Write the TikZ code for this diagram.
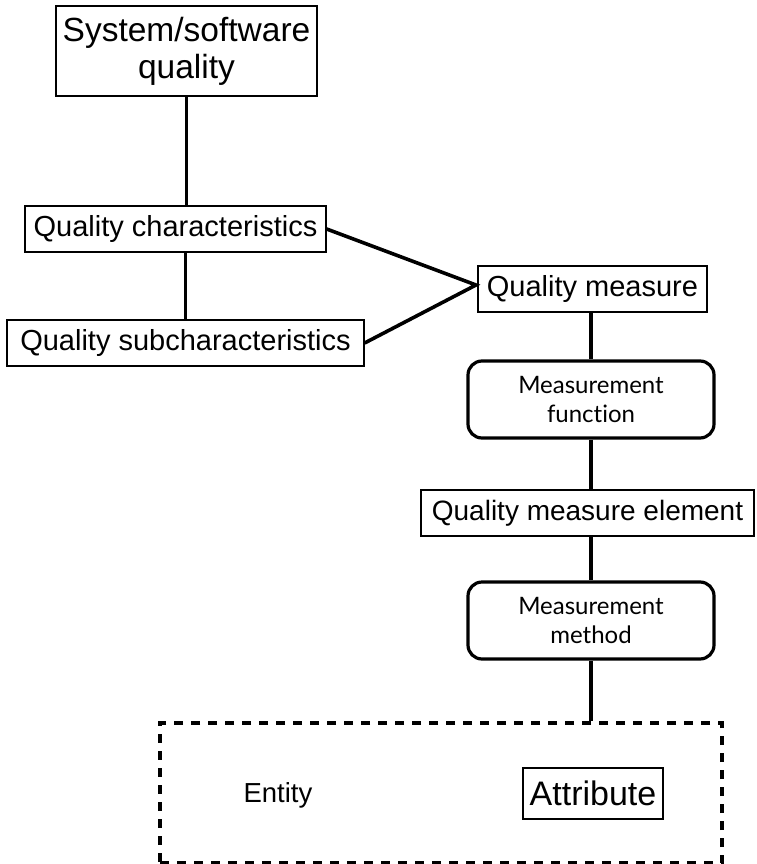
\documentclass[tikz,border=0pt]{standalone}
\usepackage{fontspec}
\setmainfont{Liberation Sans}
\newfontfamily\humanist[Ligatures=NoCommon]{Lato}
\begin{document}
\begin{tikzpicture}[x=1pt,y=-1pt,
  plainbox/.style={draw, line width=1.3pt, inner sep=0pt, align=center,
    font=\fontsize{29}{33}\selectfont},
  roundbox/.style={draw, line width=3.2pt, rounded corners=14pt, inner sep=0pt,
    align=center, minimum width=246pt, minimum height=77pt,
    font=\humanist\fontsize{24}{29}\selectfont},
  link/.style={line width=3.6pt},
  groupbox/.style={draw, line width=4pt, dash pattern=on 9pt off 8pt, inner sep=0pt}]
\useasboundingbox (0,0) rectangle (756,864);

% left column: quality model
\node[plainbox, minimum width=261pt, minimum height=90pt,
  font=\fontsize{33.5}{37}\selectfont] (sys) at (186.5,51) {System/software\\quality};
\node[plainbox, minimum width=301pt, minimum height=46pt] (qc) at (175.5,229) {Quality characteristics};
\node[plainbox, minimum width=357pt, minimum height=46pt] (qs) at (185.5,343) {Quality subcharacteristics};

% right column: measurement chain
\node[plainbox, minimum width=229pt, minimum height=46pt] (qm) at (592.5,289) {Quality measure};
\node[roundbox] (mf) at (591,399.5) {Measurement\\function};
\node[plainbox, minimum width=333pt, minimum height=46pt,
  font=\fontsize{28}{32}\selectfont] (qme) at (587.5,513) {Quality measure element};
\node[roundbox] (mm) at (591,620.5) {Measurement\\method};

% measured object
\node[groupbox, minimum width=562pt, minimum height=140pt] (obj) at (441,793) {};
\node[font=\fontsize{27.5}{31}\selectfont, inner sep=0pt] (ent) at (278,795) {Entity};
\node[plainbox, minimum width=140pt, minimum height=51pt,
  font=\fontsize{34}{38}\selectfont] (attr) at (593,793.5) {Attribute};

% connectors
\coordinate (j) at (476,285);
\draw[link] (sys.south) -- (sys.south |- qc.north);
\draw[link] (qs.north |- qc.south) -- (qs.north);
\draw[link] (qc.east) -- (j) -- (qs.east);
\draw[link] (mf.north |- qm.south) -- (mf.north);
\draw[link] (mf.south) -- (mf.south |- qme.north);
\draw[link] (qme.south -| mm.north) -- (mm.north);
\draw[link] (mm.south) -- (mm.south |- obj.north);
\end{tikzpicture}
\end{document}
